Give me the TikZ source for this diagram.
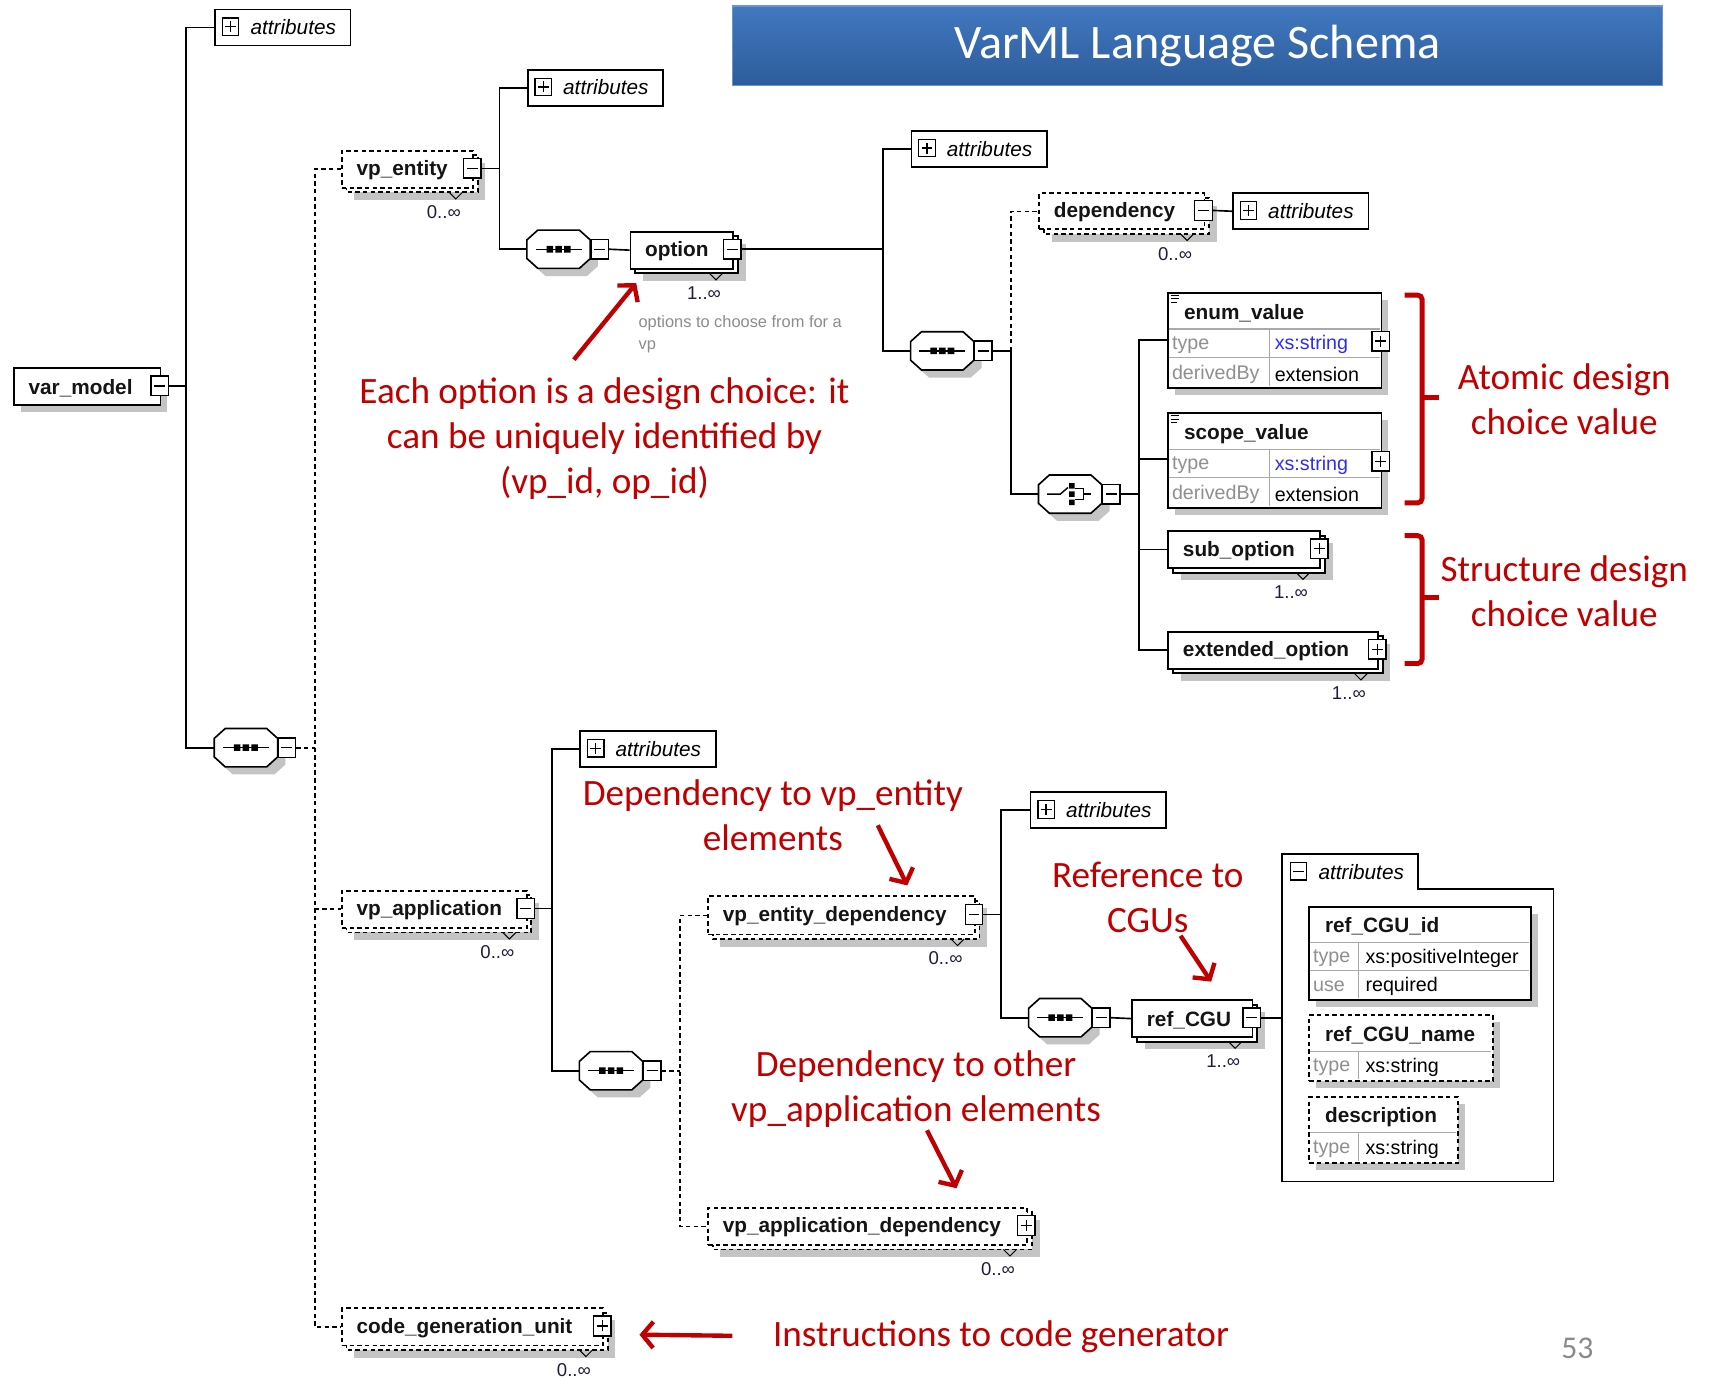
\documentclass[tikz,border=0pt]{standalone}
\usepackage{fontspec}
\setmainfont{Liberation Sans}
\newfontfamily\notefont{Carlito}
\usetikzlibrary{arrows.meta}

\definecolor{shadowgray}{HTML}{C4C4C4}
\definecolor{notered}{HTML}{C00000}
\definecolor{keygray}{HTML}{8F8F8F}
\definecolor{xsblue}{HTML}{2E2EF2}
\definecolor{gridgray}{HTML}{A9A9A9}
\definecolor{titletop}{HTML}{4178BF}
\definecolor{titlebottom}{HTML}{2D5C9B}
\definecolor{titleedge}{HTML}{6A96D0}
\definecolor{multink}{HTML}{1E1E3C}
\definecolor{commentgray}{HTML}{8C8C8C}
\definecolor{pagegray}{HTML}{8A8A8A}

\tikzset{
  box/.style={draw=black, line width=1.7pt, fill=white, inner sep=0pt},
  optional/.style={dash pattern=on 4pt off 3pt},
  shadowfill/.style={fill=shadowgray, draw=none},
  conn/.style={line width=1.5pt},
  dconn/.style={line width=1.5pt, dash pattern=on 4pt off 3pt},
  btn/.style={draw=black, line width=1.3pt, fill=white, minimum width=16pt, minimum height=18pt, inner sep=0pt},
  minusbtn/.style={btn, path picture={\draw[line width=1.2pt] ([xshift=-5pt]path picture bounding box.center) -- ([xshift=5pt]path picture bounding box.center);}},
  plusbtn/.style={btn, path picture={\draw[line width=1.2pt] ([xshift=-5pt]path picture bounding box.center) -- ([xshift=5pt]path picture bounding box.center) ([yshift=-5pt]path picture bounding box.center) -- ([yshift=5pt]path picture bounding box.center);}},
  lbl/.style={font=\fontsize{19}{22}\selectfont\bfseries, text=black!92, inner sep=0pt, anchor=west, yshift=-2pt},
  rowkey/.style={font=\fontsize{18}{20}\selectfont, text=keygray, inner sep=0pt, anchor=west, yshift=-1.5pt},
  rowval/.style={font=\fontsize{18}{20}\selectfont, text=black, inner sep=0pt, anchor=west, yshift=-1.5pt},
  mult/.style={font=\fontsize{17}{19}\selectfont, text=multink, inner sep=0pt},
  gridline/.style={draw=gridgray, line width=1pt},
  note/.style={font=\notefont\fontsize{34}{41}\selectfont, text=notered, align=center, inner sep=0pt},
  notearrow/.style={draw=notered, line width=4pt, -{Straight Barb[length=10pt,width=24pt]}},
  brace/.style={draw=notered, line width=4.5pt, rounded corners=4pt},
}

% element that may occur several times: back copy, shadow, notch, front box, label, button, multiplicity
% #1 extra style, #2 name, #3 x1, #4 y1, #5 x2, #6 y2, #7 label, #8 button style, #9 multiplicity
\newcommand{\MultiElem}[9][]{%
  \fill[shadowfill] (#3+12,#4+12) rectangle (#5+12,#6+12);
  \draw[box,#1] (#3+5,#4+5) rectangle (#5+5,#6+5);
  \draw[line width=0.9pt] (#5-21,#6+5) -- (#5-15,#6+11) -- (#5-9,#6+5);
  \node[box,#1,minimum width={#5-#3},minimum height={#6-#4},anchor=north west] (#2) at (#3,#4) {};
  \node[lbl] (#2-lbl) at (#3+14,{(#4+#6)/2}) {#7};
  \node[#8] (#2-btn) at (#5,{(#4+#6)/2}) {};
  \node[mult] (#2-mult) at (#5-26,{(#4+#6)/2+40}) {#9};
}
% element that occurs once
\newcommand{\SingleElem}[8][]{%
  \fill[shadowfill] (#3+7,#4+7) rectangle (#5+7,#6+7);
  \node[box,#1,minimum width={#5-#3},minimum height={#6-#4},anchor=north west] (#2) at (#3,#4) {};
  \node[lbl] (#2-lbl) at (#3+14,{(#4+#6)/2}) {#7};
  \node[#8] (#2-btn) at (#5,{(#4+#6)/2}) {};
}
% collapsed attribute group
\newcommand{\AttrBox}[3]{%
  \node[box,line width=1.5pt,minimum width=124pt,minimum height=33pt,anchor=north west] (#1) at (#2,#3) {};
  \node[plusbtn,minimum width=15pt,minimum height=16pt,line width=1.1pt] (#1-icon) at (#2+15,#3+16.5) {};
  \node[font=\fontsize{19}{22}\selectfont\itshape,inner sep=0pt,anchor=west] (#1-lbl) at (#2+33,#3+17) {attributes};
}
% compositor outline
\newcommand{\octagonpath}{(-19,-17.5) -- (19,-17.5) -- (29,-8.5) -- (29,8.5) -- (19,17.5) -- (-19,17.5) -- (-29,8.5) -- (-29,-8.5) -- cycle}
% sequence compositor
\newcommand{\SeqSym}[3]{%
  \begin{scope}[shift={(#2,#3)}]
    \fill[shadowfill,shift={(7,7)}] \octagonpath;
    \draw[box,line width=1.5pt] \octagonpath;
    \node[minimum width=58pt,minimum height=35pt,inner sep=0pt] (#1) at (0,0) {};
    \draw[line width=1.3pt] (-21,0) -- (21,0);
    \fill (-11,-3) rectangle (-5,3) (-3,-3) rectangle (3,3) (5,-3) rectangle (11,3);
    \node[minusbtn] (#1-btn) at (37.5,0) {};
  \end{scope}
}
% choice compositor
\newcommand{\ChoiceSym}[3]{%
  \begin{scope}[shift={(#2,#3)}]
    \fill[shadowfill,shift={(7,7)}] \octagonpath;
    \draw[box,line width=1.5pt] \octagonpath;
    \node[minimum width=58pt,minimum height=35pt,inner sep=0pt] (#1) at (0,0) {};
    \draw[line width=1.3pt] (-21,0) -- (-9,0) -- (-2,-6);
    \fill (-1,-10) rectangle (4,-5) (-1,-2.5) rectangle (4,2.5) (-1,5) rectangle (4,10);
    \draw[line width=1.3pt] (4,-5) -- (12,-5) -- (12,5) -- (4,5) (12,0) -- (19,0);
    \node[minusbtn] (#1-btn) at (37.5,0) {};
  \end{scope}
}
% simple-type element with a type table
\newcommand{\ValueElem}[3]{%
  \fill[shadowfill] (1075,#2+7) rectangle (1270,#2+94);
  \node[box,minimum width=195pt,minimum height=87pt,anchor=north west] (#1) at (1068,#2) {};
  \draw[gridline] (1069,#2+34) -- (1262,#2+34) (1069,#2+60) -- (1262,#2+60) (1161,#2+34) -- (1161,#2+86);
  \draw[line width=0.9pt] (1071,#2+3.5) -- (1079,#2+3.5) (1071,#2+6.5) -- (1079,#2+6.5) (1071,#2+9.5) -- (1077,#2+9.5);
  \node[lbl] (#1-lbl) at (1083,#2+18) {#3};
  \node[rowkey] (#1-k1) at (1072,#2+47) {type};
  \node[rowval,text=xsblue] (#1-v1) at (1166,#2+47) {xs:string};
  \node[rowkey] (#1-k2) at (1072,#2+74) {derivedBy};
  \node[rowval] (#1-v2) at (1166,#2+74) {extension};
  \node[plusbtn] (#1-btn) at (1263,#2+45) {};
}

\begin{document}
\begin{tikzpicture}[x=1pt,y=-1pt]
\useasboundingbox (0,0) rectangle (1568,1260);
\fill[white] (0,0) rectangle (1568,1260);

% title bar
\node[draw=titleedge, line width=1pt, top color=titletop, bottom color=titlebottom,
      minimum width=851pt, minimum height=73pt, inner sep=0pt,
      font=\notefont\fontsize{44}{50}\selectfont, text=white] (title) at (1095.5,42) {VarML Language Schema};

% ---------- upper tree ----------
\AttrBox{attrA}{196}{8}
\SingleElem{vm}{12}{336}{146}{370}{var\_model}{minusbtn}
\SeqSym{seq1}{225}{684}

\MultiElem[optional]{vpent}{312}{137}{432}{171}{vp\_entity}{minusbtn}{0..∞}
\AttrBox{attrB}{482}{63}
\SeqSym{seq2}{511}{228}
\MultiElem{option}{576}{211}{670}{245}{option}{minusbtn}{1..∞}
\node[font=\fontsize{15}{20}\selectfont, text=commentgray, align=left, inner sep=0pt, anchor=west] (option-doc) at (584,306) {options to choose from for a\\vp};

\AttrBox{attrC}{833}{119}
\SeqSym{seq3}{862}{321}
\MultiElem[optional]{dep}{950}{176}{1101}{209}{dependency}{minusbtn}{0..∞}
\AttrBox{attrD}{1127}{176}
\ChoiceSym{choice}{979}{452}

\ValueElem{enum}{267}{enum\_value}
\ValueElem{scope}{377}{scope\_value}
\MultiElem{subopt}{1068}{485}{1207}{519}{sub\_option}{plusbtn}{1..∞}
\MultiElem{extopt}{1068}{577}{1260}{611}{extended\_option}{plusbtn}{1..∞}

% ---------- lower tree ----------
\MultiElem[optional]{vpapp}{312}{814}{481}{848}{vp\_application}{minusbtn}{0..∞}
\AttrBox{attrE}{530}{668}
\SeqSym{seq4}{559}{979.5}
\MultiElem[optional]{vpentdep}{647}{819}{891}{854}{vp\_entity\_dependency}{minusbtn}{0..∞}
\MultiElem[optional]{vpappdep}{647}{1104}{939}{1138}{vp\_application\_dependency}{plusbtn}{0..∞}
\AttrBox{attrF}{942}{724}
\SeqSym{seq5}{970}{931}
\MultiElem{refcgu}{1035}{914}{1145}{948}{ref\_CGU}{minusbtn}{1..∞}
\MultiElem[optional]{cgu}{312}{1196}{551}{1230}{code\_generation\_unit}{plusbtn}{0..∞}

% expanded attribute group of ref_CGU
\draw[line width=1.5pt, fill=white] (1173,781) -- (1297,781) -- (1297,813) -- (1421,813) -- (1421,1081) -- (1173,1081) -- cycle;
\coordinate (attrs-in) at (1173,931);
\node[minusbtn,minimum width=15pt,minimum height=16pt,line width=1.1pt] (attrG-icon) at (1188,797) {};
\node[font=\fontsize{19}{22}\selectfont\itshape,inner sep=0pt,anchor=west] (attrG-lbl) at (1206,797.5) {attributes};

\fill[shadowfill] (1204,836) rectangle (1407,921);
\node[box,minimum width=203pt,minimum height=85pt,anchor=north west] (cguid) at (1197,829) {};
\draw[gridline] (1198,862) -- (1399,862) (1198,888) -- (1399,888) (1243,862) -- (1243,913);
\node[lbl] (cguid-lbl) at (1212,845) {ref\_CGU\_id};
\node[rowkey] (cguid-k1) at (1201,875) {type};
\node[rowval] (cguid-v1) at (1249,875) {xs:positiveInteger};
\node[rowkey] (cguid-k2) at (1201,901) {use};
\node[rowval] (cguid-v2) at (1249,901) {required};

\fill[shadowfill] (1204,935) rectangle (1372,995);
\node[box,optional,minimum width=168pt,minimum height=60pt,anchor=north west] (cguname) at (1197,928) {};
\draw[gridline] (1198,962) -- (1364,962) (1243,962) -- (1243,987);
\node[lbl] (cguname-lbl) at (1212,945) {ref\_CGU\_name};
\node[rowkey] (cguname-k1) at (1201,975) {type};
\node[rowval] (cguname-v1) at (1249,975) {xs:string};

\fill[shadowfill] (1204,1010) rectangle (1340,1070);
\node[box,optional,minimum width=136pt,minimum height=60pt,anchor=north west] (cgudesc) at (1197,1003) {};
\draw[gridline] (1198,1036) -- (1332,1036) (1243,1036) -- (1243,1062);
\node[lbl] (cgudesc-lbl) at (1212,1020) {description};
\node[rowkey] (cgudesc-k1) at (1201,1050) {type};
\node[rowval] (cgudesc-v1) at (1249,1050) {xs:string};

% ---------- connectors ----------
\coordinate (vm-j) at (170,353);
\draw[conn] (vm-btn.east) -- (vm-j);
\draw[conn] (attrA.west) -| (vm-j) |- (seq1.west);

\coordinate (seq1-j) at (288,684);
\draw[dconn] (seq1-btn.east) -- (seq1-j);
\draw[dconn] (vpent.west) -| (seq1-j) |- (cgu.west);
\draw[dconn] (seq1-j |- vpapp.west) -- (vpapp.west);

\coordinate (vpent-j) at (457,154);
\draw[conn] (vpent-btn.east) -- (vpent-j);
\draw[conn] (attrB.west) -| (vpent-j) |- (seq2.west);
\draw[conn] (seq2-btn.east) -- (option.west);

\coordinate (option-j) at (808,228);
\draw[conn] (option-btn.east) -- (option-j);
\draw[conn] (attrC.west) -| (option-j) |- (seq3.west);

\coordinate (seq3-j) at (925,321);
\draw[conn] (seq3-btn.east) -- (seq3-j) |- (choice.west);
\draw[dconn] (seq3-j) |- (dep.west);
\draw[conn] (dep-btn.east) -- (attrD.west);

\coordinate (choice-j) at (1042,452);
\coordinate (enum-in) at (1068,311);
\coordinate (scope-in) at (1068,420);
\draw[conn] (choice-btn.east) -- (choice-j);
\draw[conn] (enum-in) -| (choice-j) |- (extopt.west);
\draw[conn] (choice-j |- scope-in) -- (scope-in);
\draw[conn] (choice-j |- subopt.west) -- (subopt.west);

\coordinate (vpapp-j) at (505,831);
\draw[conn] (vpapp-btn.east) -- (vpapp-j);
\draw[conn] (attrE.west) -| (vpapp-j) |- (seq4.west);

\coordinate (seq4-j) at (622,979.5);
\draw[dconn] (seq4-btn.east) -- (seq4-j);
\draw[dconn] (vpentdep.west) -| (seq4-j) |- (vpappdep.west);

\coordinate (vpentdep-j) at (916,836.5);
\draw[conn] (vpentdep-btn.east) -- (vpentdep-j);
\draw[conn] (attrF.west) -| (vpentdep-j) |- (seq5.west);
\draw[conn] (seq5-btn.east) -- (refcgu.west);
\draw[conn] (refcgu-btn.east) -- (attrs-in);

% ---------- annotations ----------
\node[note] (note-option) at (553,401) {Each option is a design choice: it\\can be uniquely identified by\\(vp\_id, op\_id)};
\coordinate (arr1-s) at (525,329);
\coordinate (arr1-e) at (582,259);
\draw[notearrow] (arr1-s) -- (arr1-e);

\draw[brace] (1285,270) -- (1301,270) -- (1301,460) -- (1285,460);
\draw[brace] (1301,364) -- (1316,364);
\node[note] (note-atomic) at (1431,365) {Atomic design\\choice value};

\draw[brace] (1285,490) -- (1301,490) -- (1301,607) -- (1285,607);
\draw[brace] (1301,547) -- (1316,547);
\node[note] (note-structure) at (1431,541) {Structure design\\choice value};

\node[note] (note-vpent) at (707,746) {Dependency to vp\_entity\\elements};
\coordinate (arr2-s) at (803,755);
\coordinate (arr2-e) at (830,810);
\draw[notearrow] (arr2-s) -- (arr2-e);

\node[note] (note-cgu) at (1050,821) {Reference to\\CGUs};
\coordinate (arr3-s) at (1080,856);
\coordinate (arr3-e) at (1108,898);
\draw[notearrow] (arr3-s) -- (arr3-e);

\node[note] (note-vpapp) at (838,996) {Dependency to other\\vp\_application elements};
\coordinate (arr4-s) at (848,1034);
\coordinate (arr4-e) at (875,1087);
\draw[notearrow] (arr4-s) -- (arr4-e);

\node[note, anchor=west] (note-gen) at (707,1223) {Instructions to code generator};
\draw[notearrow] (note-gen.west) ++(-37,-1) coordinate (arr5-s) -- (585,1221);

\node[note, text=pagegray, font=\notefont\fontsize{29}{34}\selectfont] (pageno) at (1443,1233) {53};
\end{tikzpicture}
\end{document}
